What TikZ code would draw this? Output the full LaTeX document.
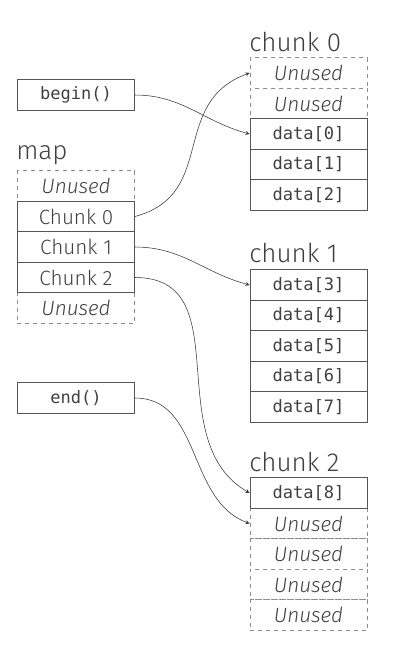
\documentclass[tikz,border=0pt]{standalone}
\usepackage{fontspec}
\setmainfont{Fira Sans}[UprightFont=* Light, ItalicFont=* Light Italic]
\setmonofont{DejaVu Sans Mono}
\definecolor{ink}{HTML}{404040}
\definecolor{edge}{HTML}{555555}
\definecolor{pale}{HTML}{8C8C8C}

\begin{document}
\begin{tikzpicture}[x=0.75pt, y=-0.75pt,
    cell/.style={rectangle, draw=edge, fill=white, inner sep=0pt, minimum width=88pt, minimum height=22.875pt, text=ink, font=\ttfamily\fontsize{12.8}{14}\selectfont},
    slot/.style={cell, font=\fontsize{15.5}{17}\selectfont},
    free/.style={cell, draw=pale, dashed, font=\itshape\fontsize{15.5}{17}\selectfont},
    head/.style={anchor=base west, inner sep=0pt, text=ink, font=\fontsize{19.5}{21}\selectfont},
    link/.style={-stealth, draw=black!80, thin}]
        \useasboundingbox (0, 0) rectangle (408, 656);

        \node[cell] (bgn) at (76, 95) {begin()};
        \node[cell] (nd) at (76, 398) {end()};

        \node[head] (lmap) at (16, 160) {map};
        \node[free] (m0) at (76, 186) {Unused};
        \node[free] (m4) at (76, 308) {Unused};
        \node[slot] (m1) at (76, 216.5) {Chunk 0};
        \node[slot] (m2) at (76, 247) {Chunk 1};
        \node[slot] (m3) at (76, 277.5) {Chunk 2};

        \node[head] (lc0) at (249, 52) {chunk 0};
        \node[free] (a0) at (308.5, 73) {Unused};
        \node[free] (a1) at (308.5, 103.5) {Unused};
        \node[cell] (a2) at (308.5, 134) {data[0]};
        \node[cell] (a3) at (308.5, 164.5) {data[1]};
        \node[cell] (a4) at (308.5, 195) {data[2]};

        \node[head] (lc1) at (249, 262) {chunk 1};
        \node[cell] (b0) at (308.5, 285) {data[3]};
        \node[cell] (b1) at (308.5, 315.5) {data[4]};
        \node[cell] (b2) at (308.5, 346) {data[5]};
        \node[cell] (b3) at (308.5, 376.5) {data[6]};
        \node[cell] (b4) at (308.5, 407) {data[7]};

        \node[head] (lc2) at (249, 471) {chunk 2};
        \node[free] (c1) at (308.5, 523.5) {Unused};
        \node[free] (c2) at (308.5, 554) {Unused};
        \node[free] (c3) at (308.5, 584.5) {Unused};
        \node[free] (c4) at (308.5, 615) {Unused};
        \node[cell] (c0) at (308.5, 493) {data[8]};

        \draw[link] (bgn.east) to[out=0, in=165] (a2.west);
        \draw[link] (m1.east) to[out=15, in=200, looseness=1.2] (a0.west);
        \draw[link] (m2.east) to[out=0, in=165] (b0.west);
        \draw[link] (m3.east) to[out=0, in=150, looseness=1.1] (c0.west);
        \draw[link] (nd.east) to[out=0, in=160] (c1.west);
    \end{tikzpicture}
\end{document}
